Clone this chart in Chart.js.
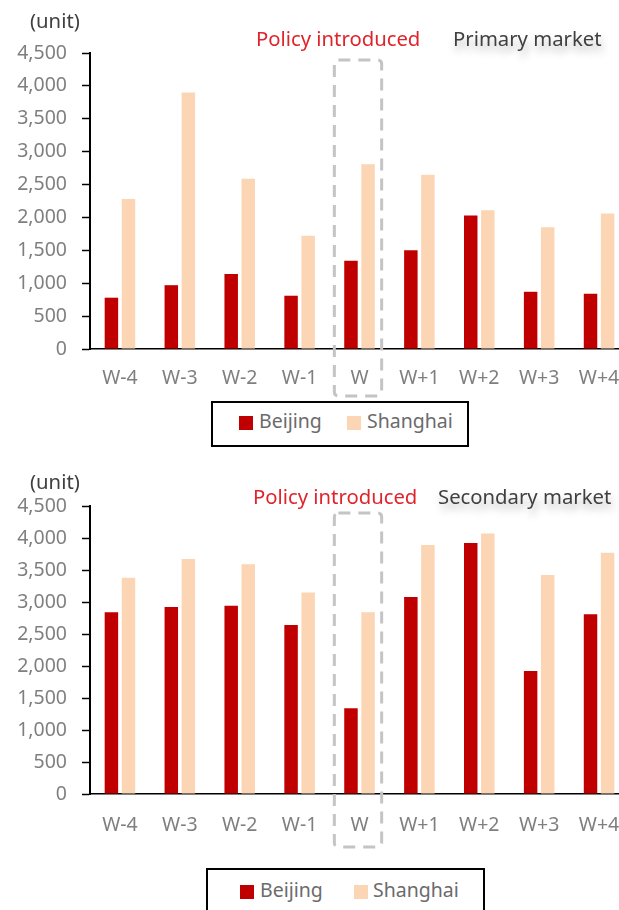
<!DOCTYPE html>
<html>
<head>
<meta charset="utf-8">
<script src="https://cdn.jsdelivr.net/npm/chart.js@4.4.1/dist/chart.umd.min.js"></script>
<style>
    html, body { margin: 0; padding: 0; background: #fff; overflow: hidden; }
    #wrap { position: relative; width: 640px; height: 910px; }
    canvas { position: absolute; left: 0; }
    .legend {
        position: absolute;
        border: 2px solid #000;
        box-sizing: border-box;
        background: #fff;
        font-family: "Noto Sans", "Open Sans", sans-serif;
        font-size: 19.5px;
        color: #6b6b6b;
    }
    .legend .sw { position: absolute; width: 14px; height: 14px; }
    .legend .lb { position: absolute; line-height: 20px; white-space: nowrap; }
</style>
</head>
<body>
<div id="wrap">
    <canvas id="primaryChart" width="640" height="450" style="top:0"></canvas>
    <canvas id="secondaryChart" width="640" height="460" style="top:450px"></canvas>
    <div class="legend" id="legendPrimary" style="left:211px; top:401px; width:258px; height:46px;"></div>
    <div class="legend" id="legendSecondary" style="left:206px; top:868px; width:279px; height:50px;"></div>
</div>
<script>
const weeks = ['W-4', 'W-3', 'W-2', 'W-1', 'W', 'W+1', 'W+2', 'W+3', 'W+4'];

// Weekly transactions (units)
const primaryBeijing = [780, 970, 1140, 810, 1340, 1500, 2030, 870, 840];
const primaryShanghai = [2280, 3900, 2590, 1720, 2810, 2650, 2110, 1850, 2060];
const secondaryBeijing = [2840, 2920, 2940, 2640, 1340, 3080, 3920, 1920, 2810];
const secondaryShanghai = [3380, 3670, 3590, 3150, 2840, 3890, 4070, 3420, 3770];

const yMax = 4500;
const yStep = 500;
const policyWeek = 'W';

const RED = '#C00000';
const PEACH = '#FCD5B4';
const FONT = '"Noto Sans", "Open Sans", sans-serif';

// Dashed frame around the policy week plus the small captions
const annotations = {
    id: 'annotations',
    afterDraw(chart, args, opts) {
        const { ctx, chartArea, scales } = chart;
        const x = scales.x;
        const cx = x.getPixelForValue(weeks.indexOf(policyWeek));
        const cw = x.width / weeks.length;

        ctx.save();
        ctx.strokeStyle = '#C4C4C4';
        ctx.lineWidth = 3;
        ctx.setLineDash([12, 8]);
        ctx.beginPath();
        ctx.roundRect(cx - cw * 0.42, chartArea.top + opts.boxTop,
            cw * 0.79, chartArea.bottom - chartArea.top - opts.boxTop + opts.boxBelow, 4);
        ctx.stroke();
        ctx.setLineDash([]);

        ctx.font = '20.3px ' + FONT;
        ctx.textBaseline = 'alphabetic';
        ctx.textAlign = 'left';

        ctx.fillStyle = '#404040';
        ctx.fillText('(unit)', 30, opts.unitY);

        ctx.fillStyle = '#E0242B';
        ctx.fillText('Policy introduced', opts.policyX, opts.titleY);

        ctx.shadowColor = 'rgba(0,0,0,0.3)';
        ctx.shadowBlur = 8;
        ctx.shadowOffsetX = 2;
        ctx.shadowOffsetY = 6;
        ctx.fillStyle = '#404040';
        ctx.fillText(opts.title, opts.titleX, opts.titleY);
        ctx.restore();
    }
};

function makeChart(canvasId, beijing, shanghai, cfg) {
    const ctx = document.getElementById(canvasId).getContext('2d');
    const H = ctx.canvas.height;

    return new Chart(ctx, {
        type: 'bar',
        data: {
            labels: weeks,
            datasets: [
                {
                    label: 'Beijing',
                    data: beijing,
                    backgroundColor: RED,
                    categoryPercentage: 0.57,
                    barPercentage: 0.79
                },
                {
                    label: 'Shanghai',
                    data: shanghai,
                    backgroundColor: PEACH,
                    categoryPercentage: 0.57,
                    barPercentage: 0.79
                }
            ]
        },
        options: {
            responsive: false,
            animation: false,
            devicePixelRatio: 1,
            layout: { padding: { top: cfg.areaTop, right: 11, bottom: 0, left: 0 } },
            plugins: {
                legend: { display: false },
                tooltip: { enabled: false },
                annotations: cfg.notes
            },
            scales: {
                x: {
                    grid: { display: false, drawTicks: false },
                    border: { display: true, color: '#000', width: 1.5 },
                    ticks: {
                        color: '#7F7F7F',
                        padding: cfg.labelPad,
                        font: { family: FONT, size: 19.5 },
                        maxRotation: 0
                    },
                    afterFit: scale => { scale.height = H - cfg.areaBottom; }
                },
                y: {
                    min: 0,
                    max: yMax,
                    grid: {
                        display: true,
                        drawOnChartArea: false,
                        drawTicks: true,
                        tickLength: 8,
                        tickColor: '#000',
                        tickWidth: 1.5
                    },
                    border: { display: true, color: '#000', width: 2 },
                    ticks: {
                        stepSize: yStep,
                        color: '#7F7F7F',
                        padding: 15,
                        font: { family: FONT, size: 19.5 },
                        callback: v => v.toLocaleString('en-US')
                    },
                    afterFit: scale => { scale.width = 90; }
                }
            }
        },
        plugins: [annotations]
    });
}

function buildLegend(el, chart, pos) {
    chart.data.datasets.forEach((ds, i) => {
        const sw = document.createElement('span');
        sw.className = 'sw';
        sw.style.background = ds.backgroundColor;
        sw.style.left = pos[i][0] + 'px';
        sw.style.top = pos[i][2] + 'px';
        const lb = document.createElement('span');
        lb.className = 'lb';
        lb.textContent = ds.label;
        lb.style.left = pos[i][1] + 'px';
        lb.style.top = (pos[i][2] - 5) + 'px';
        el.appendChild(sw);
        el.appendChild(lb);
    });
}

const primary = makeChart('primaryChart', primaryBeijing, primaryShanghai, {
    areaTop: 53,
    areaBottom: 349,
    labelPad: 18,
    notes: { title: 'Primary market', titleX: 453, policyX: 256, titleY: 46, unitY: 28,
             boxTop: 7, boxBelow: 47 }
});

const secondary = makeChart('secondaryChart', secondaryBeijing, secondaryShanghai, {
    areaTop: 56,
    areaBottom: 344,
    labelPad: 20,
    notes: { title: 'Secondary market', titleX: 438, policyX: 253, titleY: 54, unitY: 39,
             boxTop: 7, boxBelow: 53 }
});

buildLegend(document.getElementById('legendPrimary'), primary, [[26, 46, 13], [134, 154, 13]]);
buildLegend(document.getElementById('legendSecondary'), secondary, [[32, 52, 15], [146, 165, 15]]);
</script>
</body>
</html>
